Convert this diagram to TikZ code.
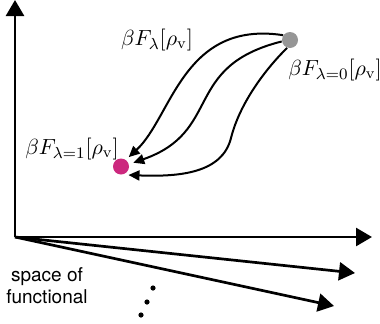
\documentclass[tikz,border=0pt]{standalone}
\usepackage{fontspec}
\newfontfamily\labelfont{TeX Gyre Heros}
\usetikzlibrary{arrows.meta}

\definecolor{dotgrey}{RGB}{150,150,150}
\definecolor{dotmagenta}{RGB}{204,40,126}

\tikzset{
  axis/.style={line width=1.35pt, -{Triangle[length=8pt,width=9pt]}},
  flow/.style={line width=1pt, -{Triangle[length=5.5pt,width=5pt]}, shorten >=2pt},
  state/.style={circle, inner sep=0pt, minimum size=8pt},
  funlabel/.style={font=\fontsize{11}{13}\selectfont, inner sep=0pt}
}

\begin{document}
\begin{tikzpicture}[x=0.5pt, y=0.5pt]
    \useasboundingbox (0,0) rectangle (380,323);

    % Axes
    \coordinate (o) at (15,86);
    \coordinate (ytip) at (15,323);
    \coordinate (xtip) at (372,86);
    \coordinate (atip) at (355,50);
    \coordinate (btip) at (334,17);
    \draw[axis] (o) -- (ytip);
    \draw[axis] (o) -- (xtip);
    \draw[axis] (o) -- (atip);
    \draw[axis] (o) -- (btip);

    % Dots for further directions
    \foreach \px/\py in {153/35, 147/21, 141/8}
        \fill (\px,\py) circle (2.6);

    % States
    \node (lz) [state, fill=dotgrey] at (290,283) {};
    \node (lo) [state, fill=dotmagenta] at (121,156.5) {};

    % Labels
    \node (flam) [funlabel] at (157,283) {$\beta F_{\lambda}[\rho_{\mathrm{v}}]$};
    \node (fzero) [funlabel] at (335,253) {$\beta F_{\lambda=0}[\rho_{\mathrm{v}}]$};
    \node (fone) [funlabel] at (72,174) {$\beta F_{\lambda=1}[\rho_{\mathrm{v}}]$};
    \node (space) [align=center, font=\labelfont\fontsize{9.5}{11}\selectfont] at (47,37) {space of\\functional};

    % Paths
    \draw[flow, shorten >=1.9pt] (lz.145) .. controls (183,303) and (172,206) .. (lo.54);
    \draw[flow, shorten >=2.2pt] (lz.190) .. controls (182,256.6) and (223,191.5) .. (lo.16);
    \draw[flow, shorten >=3pt] (lz.250) .. controls (266,254.5) and (239.75,220) .. (231,185)
        .. controls (222.25,150) and (180,146) .. (lo.-80);
\end{tikzpicture}
\end{document}
